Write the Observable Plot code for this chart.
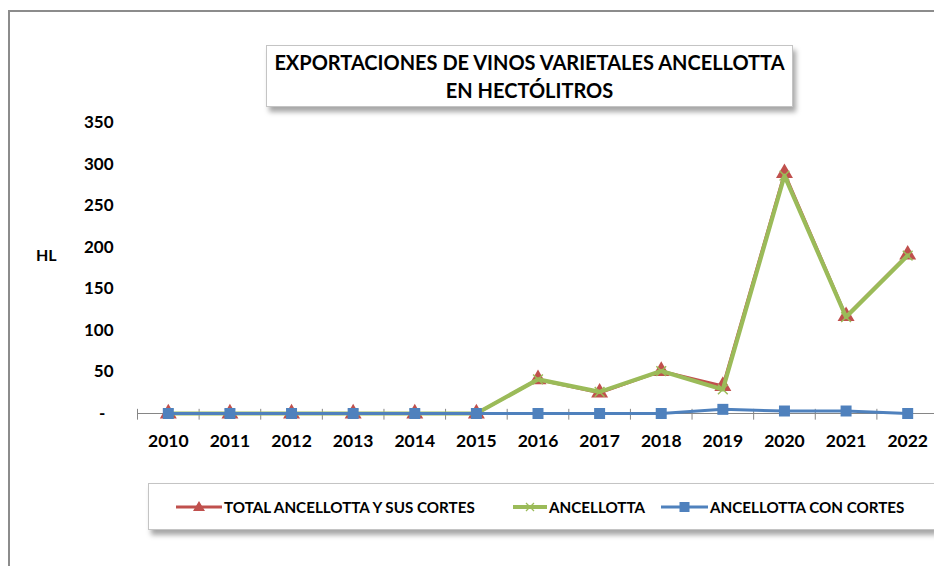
<!DOCTYPE html>
<html><head><meta charset="utf-8">
<script src="https://cdn.jsdelivr.net/npm/d3@7"></script>
<script src="https://cdn.jsdelivr.net/npm/@observablehq/plot@0.6"></script>
<style>
body{margin:0;background:#fff;}
#wrap{position:relative;width:934px;height:566px;overflow:hidden;font-family:Lato,"Open Sans",sans-serif;color:#000;}
#frame{position:absolute;left:8px;top:10px;width:1000px;height:1000px;border-left:2px solid #8c8c8c;border-top:2px solid #8c8c8c;}
#chart{position:absolute;left:0;top:0;}
#title{position:absolute;left:266px;top:45px;width:527px;height:62px;border:1px solid #c4c4c4;background:#fff;box-shadow:3px 5px 5px rgba(0,0,0,0.35);text-align:center;font-weight:bold;font-size:20px;line-height:28px;padding-top:2px;box-sizing:border-box;white-space:nowrap;}
#legend{position:absolute;left:148px;top:483px;width:787px;height:47px;border:1px solid #c4c4c4;background:#fff;box-shadow:3px 5px 5px rgba(0,0,0,0.35);box-sizing:border-box;}
.item{position:absolute;top:0;height:45px;display:flex;align-items:center;font-weight:bold;font-size:15.2px;white-space:nowrap;}
.item svg{margin-right:2px;}
#hl{position:absolute;left:36px;top:245px;font-weight:bold;font-size:16px;}
</style></head>
<body>
<div id="wrap">
  <div id="frame"></div>
  <div id="chart"></div>
  <div id="hl">HL</div>
  <div id="title">EXPORTACIONES DE VINOS VARIETALES ANCELLOTTA<br>EN HECTÓLITROS</div>
  <div id="legend"></div>
</div>
<script>
const years = [2010,2011,2012,2013,2014,2015,2016,2017,2018,2019,2020,2021,2022];
const totalCortes = [0,0,0,0,0,0,41,25,51,33,289,117,191];
const ancellotta  = [0,0,0,0,0,0,41,26,51,29,286,116,190];
const conCortes   = [0,0,0,0,0,0,0,0,0,5,3,3,0];
const seriesNames = ["TOTAL ANCELLOTTA Y SUS CORTES","ANCELLOTTA","ANCELLOTTA CON CORTES"];
const seriesColors = ["#C0504D","#9BBB59","#4F81BD"];
const yTicks = [0,50,100,150,200,250,300,350];

const rows = (vals) => years.map((y,i) => ({year:y, value:vals[i]}));
const tRows = rows(totalCortes), aRows = rows(ancellotta), cRows = rows(conCortes);
const bounds = years.map(y => y - 0.5).concat([years[years.length-1] + 0.5]);

const chart = Plot.plot({
  width: 934, height: 566,
  marginLeft: 137, marginRight: 0, marginTop: 122, marginBottom: 153,
  x: {type: "linear", domain: [2009.5, 2022.5], range: [137, 938], axis: null},
  y: {domain: [0, 350], axis: null},
  style: {fontFamily: "Lato, 'Open Sans', sans-serif", background: "transparent", overflow: "visible"},
  marks: [
    Plot.ruleX(bounds, {x: d => d, y1: -8, y2: 5, stroke: "#868686", strokeWidth: 1}),
    Plot.ruleY([0], {stroke: "#868686", strokeWidth: 1.2}),
    Plot.text(yTicks, {y: d => d, text: d => d === 0 ? "-\u00a0\u00a0" : String(d), frameAnchor: "left", dx: -24, textAnchor: "end", fontWeight: "bold", fontSize: 17}),
    Plot.text(years, {x: d => d, y: 0, dy: 28, text: d => String(d), fontWeight: "bold", fontSize: 17.5}),
    Plot.line(tRows, {x: "year", y: "value", stroke: seriesColors[0], strokeWidth: 3}),
    Plot.dot(tRows, {x: "year", y: "value", symbol: "triangle", r: 6.3, fill: seriesColors[0]}),
    Plot.line(aRows, {x: "year", y: "value", stroke: seriesColors[1], strokeWidth: 4.2}),
    Plot.dot(aRows, {x: "year", y: "value", symbol: "times", r: 4.5, stroke: seriesColors[1], strokeWidth: 1.5}),
    Plot.line(cRows, {x: "year", y: "value", stroke: seriesColors[2], strokeWidth: 3}),
    Plot.dot(cRows, {x: "year", y: "value", symbol: "square", r: 6.2, fill: seriesColors[2]})
  ]
});
document.getElementById("chart").appendChild(chart);

// legend
const legend = document.getElementById("legend");
const itemLefts = [27, 364, 512];
const swatchW = [46, 34, 47];
seriesNames.forEach((name, i) => {
  const div = document.createElement("div");
  div.className = "item";
  div.style.left = itemLefts[i] + "px";
  const w = swatchW[i], c = seriesColors[i], m = w/2;
  let marker = "";
  if (i === 0) marker = `<path d="M${m},1 L${m+6},11 L${m-6},11 Z" fill="${c}"/>`;
  if (i === 1) marker = `<path d="M${m-4},3 L${m+4},11 M${m+4},3 L${m-4},11" stroke="${c}" stroke-width="1.3"/>`;
  if (i === 2) marker = `<rect x="${m-5}" y="2" width="10" height="10" fill="${c}"/>`;
  div.innerHTML = `<svg width="${w}" height="14"><line x1="0" y1="7" x2="${w}" y2="7" stroke="${c}" stroke-width="${i===1?4:3}"/>${marker}</svg><span>${name}</span>`;
  legend.appendChild(div);
});
</script>
</body></html>
